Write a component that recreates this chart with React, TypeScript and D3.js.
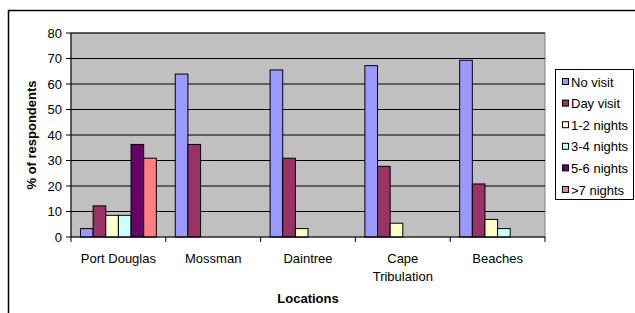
import React from "react";
import * as d3 from "d3";

const categories = ["Port Douglas", "Mossman", "Daintree", "Cape Tribulation", "Beaches"];
const seriesNames = ["No visit", "Day visit", "1-2 nights", "3-4 nights", "5-6 nights", ">7 nights"];
const noVisit = [3.3, 63.9, 65.5, 67.2, 69.3];
const dayVisit = [12.2, 36.3, 30.9, 27.7, 20.8];
const nights12 = [8.5, 0, 3.3, 5.4, 6.9];
const nights34 = [8.5, 0, 0, 0, 3.3];
const nights56 = [36.3, 0, 0, 0, 0];
const nights7 = [30.9, 0, 0, 0, 0];
const yTicks = [0, 10, 20, 30, 40, 50, 60, 70, 80];
const colors = ["#9999FF", "#993366", "#FFFFCC", "#CCFFFF", "#660066", "#FF8080"];

const series = [noVisit, dayVisit, nights12, nights34, nights56, nights7];

export default function App() {
  const W = 635, H = 313;
  const left = 71, right = 545, top = 33, bottom = 237;
  const x = d3.scaleBand<string>().domain(categories).range([left, right]).paddingInner(0).paddingOuter(0);
  const y = d3.scaleLinear().domain([0, 80]).range([bottom, top]);
  const bw = x.bandwidth() / (series.length + 1.5);
  const font = "'Liberation Sans', Arial, sans-serif";
  const boundaries = [...categories.map((c) => x(c)!), right];
  return (
    <svg width={W} height={H} style={{ position: "absolute", left: 0, top: 0 }} fontFamily={font}>
      <rect x={0} y={0} width={W} height={H} fill="#fff" />
      <rect x={8.5} y={10.5} width={700} height={400} fill="none" stroke="#000" strokeWidth={1.5} />
      <rect x={left} y={top} width={right - left} height={bottom - top} fill="#C0C0C0" stroke="#808080" strokeWidth={1} />
      {yTicks.filter((t) => t > 0).map((t) => (
        <line key={t} x1={left} x2={right} y1={y(t)} y2={y(t)} stroke="#000" strokeWidth={1} />
      ))}
      {series.map((vals, si) =>
        vals.map((v, ci) =>
          v > 0 ? (
            <rect
              key={`${si}-${ci}`}
              x={x(categories[ci])! + bw * 0.75 + si * bw}
              y={y(v)}
              width={bw}
              height={y(0) - y(v)}
              fill={colors[si]}
              stroke="#000"
              strokeWidth={1}
            />
          ) : null
        )
      )}
      {/* axes */}
      <line x1={left} x2={left} y1={top} y2={bottom} stroke="#000" strokeWidth={1} />
      <line x1={left} x2={right} y1={bottom} y2={bottom} stroke="#000" strokeWidth={1} />
      {yTicks.map((t) => (
        <g key={t}>
          <line x1={left - 5} x2={left} y1={y(t)} y2={y(t)} stroke="#000" />
          <text x={left - 9} y={y(t)} dy="0.35em" textAnchor="end" fontSize={13}>
            {t}
          </text>
        </g>
      ))}
      {boundaries.map((b, i) => (
        <line key={i} x1={b} x2={b} y1={bottom} y2={bottom + 5} stroke="#000" />
      ))}
      {categories.map((c) => {
        const cx = x(c)! + x.bandwidth() / 2;
        const parts = c === "Cape Tribulation" ? ["Cape", "Tribulation"] : [c];
        return parts.map((p, i) => (
          <text key={c + i} x={cx} y={258 + i * 18} dy="0.35em" textAnchor="middle" fontSize={13}>
            {p}
          </text>
        ));
      })}
      <text x={(left + right) / 2} y={298} dy="0.35em" textAnchor="middle" fontSize={13} fontWeight="bold">
        Locations
      </text>
      <text
        transform={`translate(31, ${(top + bottom) / 2}) rotate(-90)`}
        dy="0.35em"
        textAnchor="middle"
        fontSize={13}
        fontWeight="bold"
      >
        % of respondents
      </text>
      {/* legend */}
      <rect x={555.5} y={69.5} width={78} height={130} fill="#fff" stroke="#000" strokeWidth={1} />
      {seriesNames.map((n, i) => {
        const cy = 82 + i * 21.6;
        return (
          <g key={n}>
            <rect x={562.5} y={cy - 3.5} width={6} height={6} fill={colors[i]} stroke="#000" strokeWidth={1} />
            <text x={571} y={cy} dy="0.35em" fontSize={13}>
              {n}
            </text>
          </g>
        );
      })}
    </svg>
  );
}
